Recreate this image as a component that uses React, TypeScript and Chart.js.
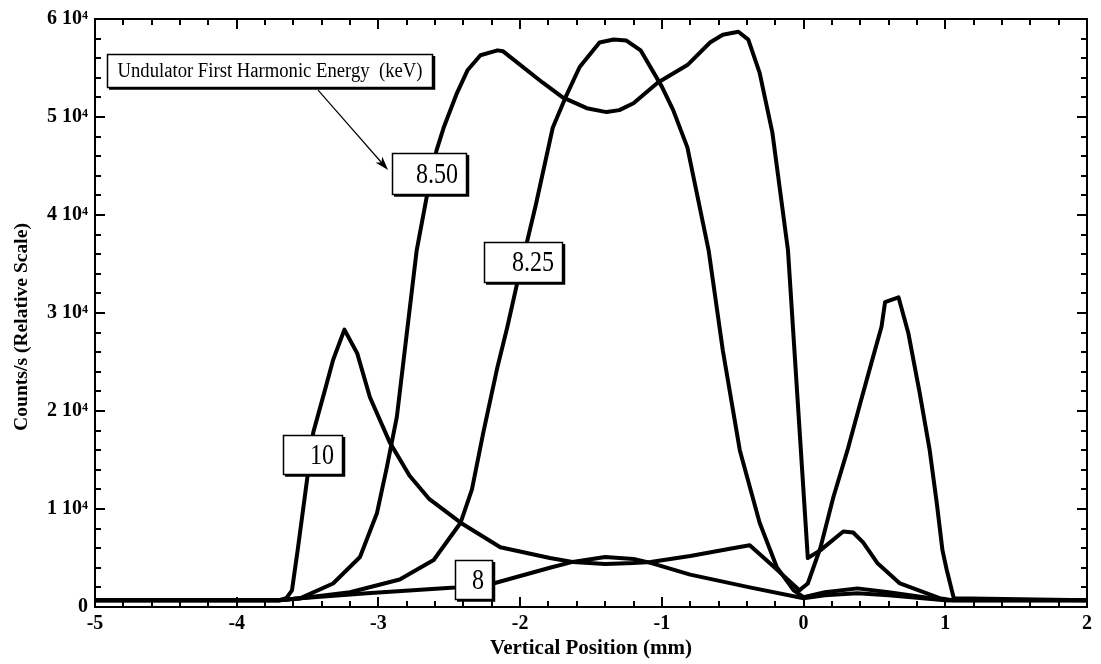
import React, { useEffect, useRef } from 'react';
import { Chart, registerables } from 'chart.js';

Chart.register(...registerables);

// ---------- data ----------
const seriesNames = ['10', '8.50', '8.25', '8'];

const x10 = [-5, -3.7, -3.65, -3.61, -3.57, -3.52, -3.46, -3.38, -3.32, -3.24, -3.15, -3.06, -2.92, -2.78, -2.64, -2.42, -2.14, -1.79, -1.63, -1.4, -1.2, -1.08, -0.8, -0.5, -0.38, -0.21, -0.03, 0.03, 0.12, 0.21, 0.31, 0.4, 0.49, 0.55, 0.575, 0.67, 0.74, 0.82, 0.89, 0.94, 0.98, 1.01, 1.06, 2];
const y10 = [700, 700, 900, 1700, 5800, 11200, 17800, 22000, 25200, 28300, 25900, 21400, 16800, 13400, 11000, 8600, 6100, 5000, 4600, 4400, 4500, 4600, 5200, 6000, 6300, 4100, 1700, 2400, 6100, 11200, 16000, 20800, 25500, 28600, 31100, 31600, 27900, 21800, 16000, 10600, 5800, 3800, 900, 700];

const x850 = [-5, -3.7, -3.55, -3.32, -3.13, -3.01, -2.94, -2.87, -2.8, -2.73, -2.66, -2.59, -2.54, -2.45, -2.37, -2.28, -2.16, -2.12, -1.84, -1.7, -1.53, -1.39, -1.3, -1.2, -1.03, -0.82, -0.66, -0.57, -0.46, -0.39, -0.31, -0.22, -0.11, 0.03, 0.12, 0.28, 0.35, 0.42, 0.52, 0.68, 0.96, 1.05, 2];
const y850 = [700, 700, 900, 2400, 5100, 9600, 14300, 19400, 27900, 36400, 41800, 46600, 48900, 52300, 54800, 56300, 56800, 56700, 53500, 52000, 50900, 50500, 50700, 51400, 53500, 55300, 57600, 58400, 58700, 57900, 54500, 48400, 36400, 5000, 5800, 7700, 7600, 6600, 4500, 2400, 900, 700, 700];

const x825 = [-5, -3.7, -3.55, -3.2, -2.85, -2.61, -2.42, -2.34, -2.26, -2.16, -2.09, -2.02, -1.89, -1.77, -1.68, -1.58, -1.44, -1.34, -1.25, -1.15, -1.0, -0.92, -0.82, -0.67, -0.57, -0.45, -0.31, -0.19, -0.07, 0.0, 0.15, 0.38, 0.6, 1.0, 2];
const y825 = [700, 700, 900, 1500, 2800, 4800, 8600, 12000, 17800, 24500, 28600, 33100, 41000, 48900, 52000, 55100, 57600, 57900, 57800, 56800, 53100, 50700, 46900, 36400, 26200, 16000, 8600, 4100, 1700, 1000, 1500, 1900, 1500, 700, 700];

const x8 = [-5, -3.7, -3.55, -3.08, -2.46, -2.19, -1.79, -1.63, -1.4, -1.2, -1.08, -0.8, -0.38, 0.0, 0.15, 0.38, 0.6, 1.0, 2];
const y8 = [700, 700, 900, 1400, 2000, 2400, 4000, 4600, 5100, 4900, 4500, 3300, 2000, 900, 1200, 1400, 1200, 700, 700];

const xTickValues = [-5, -4, -3, -2, -1, 0, 1, 2];
const yTickValues = [0, 10000, 20000, 30000, 40000, 50000, 60000];
const yTickLabels = ['0', '1 10\u2074', '2 10\u2074', '3 10\u2074', '4 10\u2074', '5 10\u2074', '6 10\u2074'];

const xTitle = 'Vertical Position (mm)';
const yTitle = 'Counts/s (Relative Scale)';
const legendText = 'Undulator First Harmonic Energy  (keV)';

// ---------- annotation layout (styling) ----------
const SERIF = '"Liberation Serif", "Times New Roman", serif';
const boxes = [
  { text: legendText, x1: -4.915, x2: -2.615, y1: 56400, y2: 53000, size: 20, align: 'center', fitWidth: 305 },
  { text: seriesNames[1], x1: -2.904, x2: -2.375, y1: 46300, y2: 42000, size: 29, align: 'right' },
  { text: seriesNames[2], x1: -2.255, x2: -1.697, y1: 37200, y2: 33100, size: 29, align: 'right' },
  { text: seriesNames[0], x1: -3.673, x2: -3.25, y1: 17550, y2: 13470, size: 29, align: 'right' },
  { text: seriesNames[3], x1: -2.459, x2: -2.191, y1: 4800, y2: 700, size: 29, align: 'right' },
];
const arrow = { x1: -3.426, y1: 52750, x2: -2.932, y2: 44590 };
const yTitlePos = { x: 22, y: 327, size: 19.6 };

const zip = (xs: number[], ys: number[]) => xs.map((x, i) => ({ x, y: ys[i] }));

const decorPlugin = {
  id: 'decor',
  afterDraw(chart: any) {
    const { ctx, chartArea } = chart;
    const xs = chart.scales.x;
    const ys = chart.scales.y;
    const { left, right, top, bottom } = chartArea;
    ctx.save();
    ctx.strokeStyle = '#000';
    ctx.fillStyle = '#000';
    // frame
    ctx.lineWidth = 2;
    ctx.strokeRect(left, top, right - left, bottom - top);
    // ticks
    ctx.lineWidth = 2;
    ctx.beginPath();
    for (let i = 0; i <= 35; i++) {
      const v = -5 + i * 0.2;
      const px = Math.round(xs.getPixelForValue(v));
      const len = i % 5 === 0 ? 10 : 6;
      ctx.moveTo(px, bottom);
      ctx.lineTo(px, bottom - len);
      ctx.moveTo(px, top);
      ctx.lineTo(px, top + len);
    }
    for (let i = 0; i <= 30; i++) {
      const v = i * 2000;
      const py = Math.round(ys.getPixelForValue(v));
      const len = i % 5 === 0 ? 10 : 6;
      ctx.moveTo(left, py);
      ctx.lineTo(left + len, py);
      ctx.moveTo(right, py);
      ctx.lineTo(right - len, py);
    }
    ctx.stroke();

    // y title
    ctx.save();
    ctx.translate(yTitlePos.x, yTitlePos.y);
    ctx.rotate(-Math.PI / 2);
    ctx.font = `bold ${yTitlePos.size}px ${SERIF}`;
    ctx.textAlign = 'center';
    ctx.textBaseline = 'middle';
    ctx.fillText(yTitle, 0, 0);
    ctx.restore();

    // arrow
    const ax1 = xs.getPixelForValue(arrow.x1);
    const ay1 = ys.getPixelForValue(arrow.y1);
    const ax2 = xs.getPixelForValue(arrow.x2);
    const ay2 = ys.getPixelForValue(arrow.y2);
    const ang = Math.atan2(ay2 - ay1, ax2 - ax1);
    ctx.lineWidth = 1.2;
    ctx.beginPath();
    ctx.moveTo(ax1, ay1);
    ctx.lineTo(ax2 - 8 * Math.cos(ang), ay2 - 8 * Math.sin(ang));
    ctx.stroke();
    ctx.beginPath();
    ctx.moveTo(ax2, ay2);
    ctx.lineTo(ax2 - 14 * Math.cos(ang) + 4.5 * Math.sin(ang), ay2 - 14 * Math.sin(ang) - 4.5 * Math.cos(ang));
    ctx.lineTo(ax2 - 10 * Math.cos(ang), ay2 - 10 * Math.sin(ang));
    ctx.lineTo(ax2 - 14 * Math.cos(ang) - 4.5 * Math.sin(ang), ay2 - 14 * Math.sin(ang) + 4.5 * Math.cos(ang));
    ctx.closePath();
    ctx.fill();

    // boxes
    for (const b of boxes) {
      const bx1 = Math.round(xs.getPixelForValue(b.x1));
      const bx2 = Math.round(xs.getPixelForValue(b.x2));
      const by1 = Math.round(ys.getPixelForValue(b.y1));
      const by2 = Math.round(ys.getPixelForValue(b.y2));
      ctx.fillStyle = '#fff';
      ctx.fillRect(bx1, by1, bx2 - bx1, by2 - by1);
      ctx.strokeStyle = '#000';
      ctx.lineWidth = 1.5;
      ctx.strokeRect(bx1 + 0.5, by1 + 0.5, bx2 - bx1 - 1, by2 - by1 - 1);
      // shadow on bottom and right
      ctx.lineWidth = 2.5;
      ctx.beginPath();
      ctx.moveTo(bx1 + 2, by2 + 0.5);
      ctx.lineTo(bx2 + 1, by2 + 0.5);
      ctx.lineTo(bx2 + 1, by1 + 2);
      ctx.stroke();
      // text
      ctx.fillStyle = '#000';
      ctx.font = `${b.size}px ${SERIF}`;
      ctx.textBaseline = 'middle';
      const cy = (by1 + by2) / 2 + 1;
      const measured = ctx.measureText(b.text).width;
      const sx = b.fitWidth ? b.fitWidth / measured : 0.83;
      ctx.save();
      if (b.align === 'center') {
        ctx.translate((bx1 + bx2) / 2, cy);
        ctx.scale(sx, 1);
        ctx.textAlign = 'center';
        ctx.fillText(b.text, 0, 0);
      } else {
        ctx.translate(bx2 - 9, cy);
        ctx.scale(sx, 1);
        ctx.textAlign = 'right';
        ctx.fillText(b.text, 0, 0);
      }
      ctx.restore();
    }
    ctx.restore();
  },
};

export default function App() {
  const ref = useRef<HTMLCanvasElement>(null);
  useEffect(() => {
    const series = [
      { name: seriesNames[0], xs: x10, ys: y10 },
      { name: seriesNames[1], xs: x850, ys: y850 },
      { name: seriesNames[2], xs: x825, ys: y825 },
      { name: seriesNames[3], xs: x8, ys: y8 },
    ];
    const chart = new Chart(ref.current as HTMLCanvasElement, {
      type: 'line',
      data: {
        datasets: series.map((s) => ({
          label: s.name,
          data: zip(s.xs, s.ys),
          borderColor: '#000',
          backgroundColor: '#000',
          borderWidth: 4,
          pointRadius: 0,
          tension: 0,
          borderJoinStyle: 'round' as const,
          borderCapStyle: 'round' as const,
          fill: false,
        })),
      },
      options: {
        animation: false,
        responsive: false,
        devicePixelRatio: 1,
        layout: { padding: { left: 0, right: 14, top: 19, bottom: 0 } },
        plugins: { legend: { display: false }, tooltip: { enabled: false } },
        scales: {
          x: {
            type: 'linear',
            min: -5,
            max: 2,
            afterBuildTicks: (s: any) => {
              s.ticks = xTickValues.map((v) => ({ value: v }));
            },
            afterFit: (s: any) => {
              s.height = 57;
            },
            grid: { display: false, drawTicks: false },
            border: { display: false },
            ticks: {
              color: '#000',
              padding: 5,
              maxRotation: 0,
              font: { family: SERIF, size: 20, weight: 'bold' },
              callback: (v: any) => String(v),
            },
            title: {
              display: true,
              text: xTitle,
              color: '#000',
              font: { family: SERIF, size: 21, weight: 'bold' },
              padding: { top: 0, bottom: 3 },
            },
          },
          y: {
            type: 'linear',
            min: 0,
            max: 60000,
            afterBuildTicks: (s: any) => {
              s.ticks = yTickValues.map((v) => ({ value: v }));
            },
            afterFit: (s: any) => {
              s.width = 95;
            },
            grid: { display: false, drawTicks: false },
            border: { display: false },
            ticks: {
              color: '#000',
              padding: 7,
              font: { family: SERIF, size: 20, weight: 'bold' },
              callback: (v: any) => yTickLabels[Math.round(v / 10000)],
            },
            title: { display: false },
          },
        },
      },
      plugins: [decorPlugin],
    } as any);
    return () => chart.destroy();
  }, []);
  return (
    <div style={{ position: 'fixed', left: 0, top: 0, width: 1101, height: 664, background: '#fff' }}>
      <canvas ref={ref} width={1101} height={664} style={{ display: 'block', width: 1101, height: 664 }} />
    </div>
  );
}
